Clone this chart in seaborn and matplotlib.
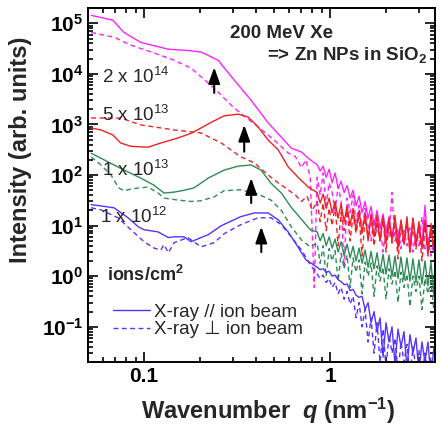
# SAXS intensity vs wavenumber, Zn NPs in SiO2 irradiated with 200 MeV Xe
import numpy as np
import pandas as pd
import matplotlib
matplotlib.use('Agg')
import matplotlib.pyplot as plt
from matplotlib.ticker import NullFormatter
import seaborn as sns

# smooth (low q) part of each curve
mag_par_q = [0.052, 0.068, 0.078, 0.096, 0.135, 0.173, 0.203, 0.25, 0.305, 0.376, 0.464, 0.546, 0.617, 0.70, 0.78]
mag_par_I = [1.44e5, 1.15e5, 6.6e4, 4.2e4, 3.07e4, 2.9e4, 2.7e4, 1.86e4, 7.5e3, 3.0e3, 1.07e3, 560, 340, 285, 200]
mag_perp_q = [0.052, 0.069, 0.085, 0.113, 0.145, 0.179, 0.238, 0.305, 0.41, 0.50, 0.594, 0.65, 0.70, 0.74, 0.78, 0.82]
mag_perp_I = [6.6e4, 5.3e4, 3.7e4, 2.6e4, 1.86e4, 1.3e4, 5.2e3, 2.1e3, 890, 490, 273, 230, 140, 200, 90, 0.6]

red_par_q = [0.052, 0.0587, 0.068, 0.075, 0.085, 0.105, 0.123, 0.152, 0.179, 0.202, 0.229, 0.269, 0.32, 0.362,
             0.41, 0.464, 0.525, 0.594, 0.67, 0.76]
red_par_I = [850, 780, 620, 430, 370, 355, 430, 540, 670, 850, 1100, 1480, 1600, 1400, 890, 490, 315, 145, 91, 58]
red_perp_q = [0.052, 0.075, 0.096, 0.145, 0.202, 0.26, 0.33, 0.39, 0.464, 0.525, 0.594, 0.65, 0.70, 0.75, 0.80]
red_perp_I = [1340, 1340, 980, 780, 680, 430, 230, 175, 100, 70, 51, 40, 30, 38, 20]

green_par_q = [0.052, 0.0587, 0.069, 0.082, 0.096, 0.113, 0.128, 0.145, 0.164, 0.186, 0.221, 0.269, 0.32, 0.376,
               0.425, 0.48, 0.546, 0.617, 0.724, 0.78]
green_par_I = [270, 215, 158, 115, 87, 63, 44, 46, 50, 56, 87, 125, 150, 158, 125, 69, 44, 23, 11.5, 8.3]
green_perp_q = [0.052, 0.0587, 0.0665, 0.073, 0.078, 0.088, 0.105, 0.119, 0.128, 0.152, 0.179, 0.202, 0.238,
                0.269, 0.33, 0.41, 0.48, 0.546, 0.617, 0.70, 0.78]
green_perp_I = [227, 158, 100, 56, 49, 54, 58, 44, 35, 32, 30, 31, 37, 49, 51, 42, 32, 20, 9.5, 5.2, 3.8]

blue_par_q = [0.052, 0.0587, 0.069, 0.082, 0.093, 0.1, 0.119, 0.135, 0.145, 0.164, 0.179, 0.202, 0.221, 0.259,
              0.33, 0.39, 0.464, 0.525, 0.594, 0.67, 0.74, 0.80]
blue_par_I = [26, 24.5, 22.5, 14.3, 9.5, 8.3, 7.5, 5.8, 6.0, 6.0, 4.8, 5.8, 6.6, 9.9, 15, 17.8, 17.8, 13, 7.5,
              3.8, 2.1, 1.75]
blue_perp_q = [0.052, 0.0587, 0.0725, 0.085, 0.1, 0.113, 0.123, 0.128, 0.135, 0.145, 0.172, 0.202, 0.238, 0.269,
               0.33, 0.41, 0.48, 0.546, 0.617, 0.70, 0.78]
blue_perp_I = [22.5, 20.5, 14.3, 8.3, 4.8, 3.6, 3.3, 4.2, 2.9, 4.6, 5.8, 3.8, 4.6, 6.9, 10.4, 14.3, 14.3, 10.4,
               6.0, 3.3, 1.7]

# noisy high-q tails (same q points for all curves)
tail_q = [0.85, 0.882, 0.915, 0.95, 0.986, 1.023, 1.061, 1.101, 1.143, 1.186, 1.231, 1.277, 1.325, 1.375,
          1.427, 1.481, 1.537, 1.595, 1.655, 1.717, 1.782, 1.849, 1.919, 1.991, 2.066, 2.144, 2.225, 2.309,
          2.396, 2.486, 2.58, 2.677, 2.778, 2.883, 2.992, 3.105, 3.222, 3.343, 3.469, 3.6]
mag_par_tail = [160, 120, 150, 90, 130, 70, 110, 55, 75, 45, 62, 35, 50, 25, 38, 18, 30, 14, 24, 10,
                20, 9, 17, 7, 15, 6, 13, 5, 12, 5, 11, 4, 14, 4, 10, 4, 25, 4, 9, 3]
mag_perp_tail = [90, 40, 110, 25, 70, 45, 20, 60, 30, 1.5, 35, 18, 40, 12, 25, 8, 22, 10, 5, 14,
                 7, 11, 3, 10, 6, 45, 5, 9, 3.5, 8, 4, 9, 3, 7, 4, 15, 3.5, 6, 2.5, 5]
red_par_tail = [45, 28, 42, 22, 35, 18, 30, 14, 27, 12, 24, 10, 22, 8, 20, 7, 18, 5, 17, 6,
                16, 5, 15, 4.5, 14, 5, 16, 3.5, 13, 4.5, 15, 3, 14, 4.5, 12, 3.5, 13, 2.5, 11, 3.5]
red_perp_tail = [30, 12, 28, 8, 22, 10, 25, 4, 18, 8, 20, 5, 16, 7, 17, 2.5, 14, 6, 15, 4,
                 12, 5, 13, 3, 11, 4.5, 12, 2.2, 10, 4, 11, 3, 10, 3.5, 9, 2, 10, 3.5, 8, 3]
green_par_tail = [7.5, 5, 7, 4, 6, 3.6, 5.4, 3, 4.8, 2.6, 4.3, 2.3, 3.9, 2, 3.6, 1.8, 3.3, 1.5, 3.1, 1.4,
                  2.9, 1.2, 2.7, 1.1, 2.6, 1.0, 2.5, 0.9, 2.4, 0.85, 2.3, 0.8, 2.2, 0.75, 2.1, 0.7,
                  2.0, 0.65, 1.9, 0.4]
green_perp_tail = [4.5, 1.8, 4.0, 1.0, 3.5, 2.0, 3.2, 0.8, 2.8, 1.4, 2.6, 0.6, 2.3, 1.2, 2.1, 0.45, 1.9, 1.0,
                   1.8, 0.4, 1.6, 0.8, 1.5, 0.35, 1.4, 0.7, 1.3, 0.3, 1.2, 0.6, 1.1, 0.25, 1.0, 0.5, 1.0, 0.22,
                   0.9, 0.45, 0.8, 0.2]
blue_par_tail = [1.5, 1.35, 1.4, 1.2, 1.25, 1.0, 1.05, 0.85, 0.78, 0.68, 0.7, 0.52, 0.55, 0.42, 0.38, 0.4,
                 0.22, 0.3, 0.12, 0.2, 0.08, 0.15, 0.025, 0.12, 0.05, 0.1, 0.018, 0.09, 0.04, 0.08, 0.015,
                 0.07, 0.03, 0.06, 0.012, 0.05, 0.02, 0.05, 0.01, 0.04]
blue_perp_tail = [1.1, 0.9, 1.05, 0.75, 0.9, 0.6, 0.75, 0.45, 0.6, 0.35, 0.5, 0.28, 0.4, 0.15, 0.3, 0.1,
                  0.22, 0.05, 0.15, 0.03, 0.12, 0.02, 0.09, 0.015, 0.07, 0.03, 0.06, 0.012, 0.05, 0.02, 0.045,
                  0.01, 0.04, 0.015, 0.035, 0.01, 0.03, 0.012, 0.025, 0.01]

fluence_labels = [r'2 x 10$^{14}$', r'5 x 10$^{13}$', r'1 x 10$^{13}$', r'1 x 10$^{12}$']
# arrows marking the peak positions
arrow_q = [0.238, 0.345, 0.376, 0.426]
arrow_top = [1.35e4, 980, 87, 9.5]
arrow_bottom = [4.2e3, 290, 28, 3.0]

colors = {'mag': '#ff22ff', 'red': '#ee2222', 'green': '#2e8b57', 'blue': '#5533ff'}

sns.set_style('ticks')
plt.rcParams['font.family'] = ['Liberation Sans', 'DejaVu Sans']
plt.rcParams['mathtext.fontset'] = 'custom'
plt.rcParams['mathtext.rm'] = 'Liberation Sans'
plt.rcParams['mathtext.bf'] = 'Liberation Sans:bold'
plt.rcParams['mathtext.it'] = 'Liberation Sans:italic:bold'

fig = plt.figure(figsize=(4.41, 4.26), dpi=100)
ax = fig.add_axes([0.1995, 0.150, 0.787, 0.831])

curves = [
    ('mag', '--', mag_perp_q, mag_perp_I, mag_perp_tail),
    ('mag', '-', mag_par_q, mag_par_I, mag_par_tail),
    ('red', '--', red_perp_q, red_perp_I, red_perp_tail),
    ('red', '-', red_par_q, red_par_I, red_par_tail),
    ('green', '--', green_perp_q, green_perp_I, green_perp_tail),
    ('green', '-', green_par_q, green_par_I, green_par_tail),
    ('blue', '--', blue_perp_q, blue_perp_I, blue_perp_tail),
    ('blue', '-', blue_par_q, blue_par_I, blue_par_tail),
]
for name, ls, q, I, tail in curves:
    df = pd.DataFrame({'q': list(q) + tail_q, 'I': list(I) + tail})
    style = (0, (3.5, 2.5)) if ls == '--' else '-'
    sns.lineplot(data=df, x='q', y='I', ax=ax, color=colors[name], linestyle=style,
                 lw=1.0, estimator=None, sort=False)

ax.set_xscale('log')
ax.set_yscale('log')
ax.set_xlim(0.05, 3.65)
ax.set_ylim(0.02, 2e5)

ax.set_xticks([0.1, 1])
ax.set_xticklabels(['0.1', '1'], fontweight='bold', fontsize=15)
yt = [1e-1, 1, 10, 1e2, 1e3, 1e4, 1e5]
ax.set_yticks(yt)
ax.set_yticklabels([r'$\mathbf{10^{%d}}$' % int(np.log10(v)) for v in yt], fontsize=15)
ax.xaxis.set_minor_formatter(NullFormatter())
ax.yaxis.set_minor_formatter(NullFormatter())
ax.tick_params(which='both', direction='in', top=True, right=True, width=1.2, colors='black')
ax.tick_params(which='major', length=7)
ax.tick_params(which='minor', length=3.5)
for s in ax.spines.values():
    s.set_linewidth(1.4)
    s.set_color('black')

ax.set_xlabel(r'Wavenumber  $\mathit{q}$ (nm$^{\mathbf{-1}}$)', fontsize=17, fontweight='bold')
ax.set_ylabel('Intensity (arb. units)', fontsize=17, fontweight='bold')
ax.xaxis.set_label_coords(0.519, -0.095)
ax.yaxis.set_label_coords(-0.16, 0.60)

ax.text(0.409, 0.929, '200 MeV Xe', transform=ax.transAxes, fontsize=13.5, fontweight='bold', va='center')
ax.text(0.977, 0.867, r'=> Zn NPs in SiO$_{\mathbf{2}}$', transform=ax.transAxes, fontsize=13.5,
        fontweight='bold', va='center', ha='right')

label_pos = [(0.040, 0.805), (0.040, 0.698), (0.040, 0.542), (0.035, 0.410)]
for txt, (x, y) in zip(fluence_labels, label_pos):
    ax.text(x, y, txt, transform=ax.transAxes, fontsize=13.5, va='center')
ax.text(0.055, 0.246, r'ions/cm$^{\mathbf{2}}$', transform=ax.transAxes, fontsize=13,
        fontweight='bold', va='center')

for q, top, bot in zip(arrow_q, arrow_top, arrow_bottom):
    ax.annotate('', xy=(q, top), xytext=(q, bot),
                arrowprops=dict(arrowstyle='-|>,head_length=0.7,head_width=0.25', color='black',
                                lw=1.5, mutation_scale=14, shrinkA=0, shrinkB=0))

h1, = ax.plot([], [], color=colors['blue'], lw=1.0)
h2, = ax.plot([], [], color=colors['blue'], lw=1.0, linestyle=(0, (3.5, 2.5)))
ax.legend([h1, h2], ['X-ray // ion beam', 'X-ray \u22a5 ion beam'], loc='upper left',
          bbox_to_anchor=(0.072, 0.165), frameon=False, fontsize=13.5, handlelength=2.0,
          handletextpad=0.2, labelspacing=0.0, borderpad=0, borderaxespad=0)

fig.savefig('out.png', dpi=100)
